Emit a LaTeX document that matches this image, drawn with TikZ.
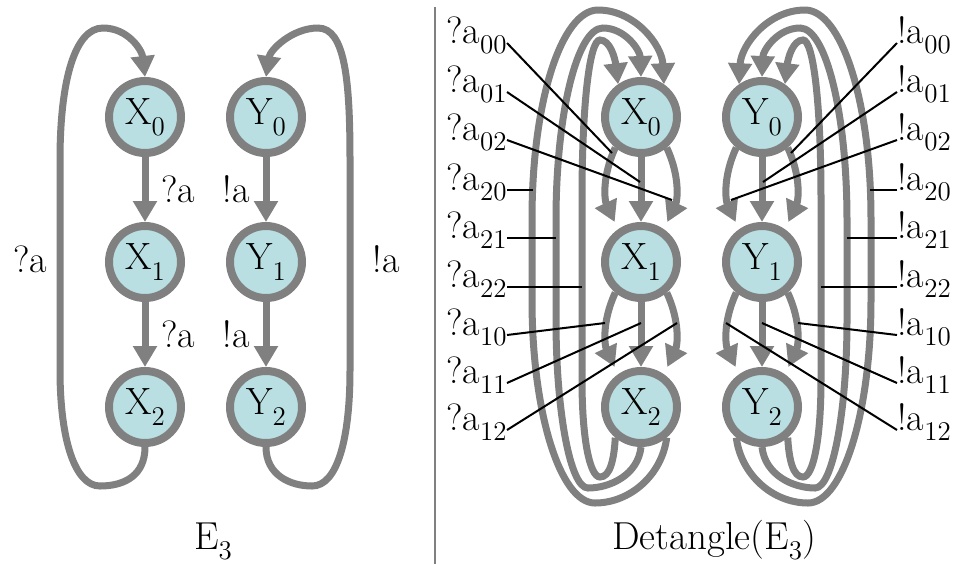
\documentclass[tikz,border=0pt]{standalone}
\usepackage{tikz}
\usetikzlibrary{arrows.meta}
\definecolor{edgegray}{RGB}{128,128,128}
\definecolor{statefill}{RGB}{185,223,226}
\newcommand{\lowsub}[1]{\raisebox{-0.28em}{\fontsize{13.5}{14}\selectfont #1}}
\newcommand{\labelfont}{\fontsize{19}{22}\selectfont}
\newcommand{\titlefont}{\fontsize{19.5}{23}\selectfont}

\begin{document}
\begin{tikzpicture}[x=0.5pt, y=-0.5pt,
    statenode/.style={circle, draw=edgegray, fill=statefill, line width=4pt, minimum size=36pt, inner sep=0pt, font=\labelfont},
    trans/.style={draw=edgegray, line width=3.5pt, -{Triangle[length=10.5pt,width=11.5pt]}},
    bent/.style={trans, shorten >=4pt},
    lbl/.style={inner sep=0pt, font=\labelfont},
    pointer/.style={black, line width=1pt},
    divider/.style={draw=edgegray, line width=1pt}]
    \useasboundingbox (0,0) rectangle (959,564);

    % E_3
    \node[statenode] (X0) at (145,117) {X\lowsub{0}};
    \node[statenode] (X1) at (145,262) {X\lowsub{1}};
    \node[statenode] (X2) at (145,407) {X\lowsub{2}};
    \node[statenode] (Y0) at (266,117) {Y\lowsub{0}};
    \node[statenode] (Y1) at (266,262) {Y\lowsub{1}};
    \node[statenode] (Y2) at (266,407) {Y\lowsub{2}};

    \draw[trans] (X0) -- node[lbl, right=6.5pt] {?a} (X1);
    \draw[trans] (X1) -- node[lbl, right=6.5pt] {?a} (X2);
    \draw[trans] (Y0) -- node[lbl, left=6.5pt] {!a} (Y1);
    \draw[trans] (Y1) -- node[lbl, left=6.5pt] {!a} (Y2);

    \draw[trans] (X2.south) .. controls (145,475) and (125,486) .. (100,486)
        .. controls (75,486) and (60,440) .. (60,370) -- (60,160)
        .. controls (60,80) and (75,28) .. (103,28)
        .. controls (128,28) and (142,50) .. (X0.north);
    \draw[trans] (Y2.south) .. controls (266,475) and (290,486) .. (312,486)
        .. controls (337,486) and (350,440) .. (350,370) -- (350,160)
        .. controls (350,80) and (345,28) .. (318,28)
        .. controls (292,28) and (270,50) .. (Y0.north);
    \node[lbl] (qloop) at (30,259) {?a};
    \node[lbl] (eloop) at (386,259) {!a};

    \node[font=\titlefont, inner sep=0pt, anchor=base] (title1) at (213,549) {E\lowsub{3}};

    \draw[divider] (435,7) -- (435,564);

    % Detangle(E_3)
    \node[statenode] (DX0) at (641,117) {X\lowsub{0}};
    \node[statenode] (DX1) at (641,262) {X\lowsub{1}};
    \node[statenode] (DX2) at (641,407) {X\lowsub{2}};
    \node[statenode] (DY0) at (762,117) {Y\lowsub{0}};
    \node[statenode] (DY1) at (762,262) {Y\lowsub{1}};
    \node[statenode] (DY2) at (762,407) {Y\lowsub{2}};

    \draw[trans] (DX0) -- (DX1);
    \draw[bent] (DX0.-130) to[out=-115,in=115] (DX1.125);
    \draw[bent] (DX0.-50) to[out=-65,in=65] (DX1.55);
    \draw[trans] (DX1) -- (DX2);
    \draw[bent] (DX1.-130) to[out=-115,in=115] (DX2.125);
    \draw[bent] (DX1.-50) to[out=-65,in=65] (DX2.55);

    \draw[trans] (DY0) -- (DY1);
    \draw[bent] (DY0.-130) to[out=-115,in=115] (DY1.125);
    \draw[bent] (DY0.-50) to[out=-65,in=65] (DY1.55);
    \draw[trans] (DY1) -- (DY2);
    \draw[bent] (DY1.-130) to[out=-115,in=115] (DY2.125);
    \draw[bent] (DY1.-50) to[out=-65,in=65] (DY2.55);

    \draw[trans] (DX2.-50) .. controls (662,475) and (630,503) .. (595,503)
        .. controls (560,503) and (532,412) .. (532,300) -- (532,219)
        .. controls (532,100) and (562,10) .. (598,10)
        .. controls (635,10) and (662,45) .. (DX0.55);
    \draw[trans] (DX2.south) .. controls (638,475) and (610,488) .. (588,488)
        .. controls (570,488) and (556,410) .. (556,320) -- (556,220)
        .. controls (556,114) and (577,28) .. (603,28)
        .. controls (625,28) and (640,50) .. (DX0.north);
    \draw[trans] (DX2.-130) .. controls (614,460) and (610,477) .. (600,477)
        .. controls (590,477) and (582,440) .. (582,380) -- (582,200)
        .. controls (582,100) and (590,40) .. (600,40)
        .. controls (610,40) and (615,58) .. (DX0.125);

    \draw[trans] (DY2.-130) .. controls (741,475) and (773,503) .. (808,503)
        .. controls (843,503) and (871,412) .. (871,300) -- (871,219)
        .. controls (871,100) and (841,10) .. (805,10)
        .. controls (768,10) and (741,45) .. (DY0.125);
    \draw[trans] (DY2.south) .. controls (765,475) and (793,488) .. (815,488)
        .. controls (833,488) and (847,410) .. (847,320) -- (847,220)
        .. controls (847,114) and (826,28) .. (800,28)
        .. controls (778,28) and (763,50) .. (DY0.north);
    \draw[trans] (DY2.-50) .. controls (789,460) and (793,477) .. (803,477)
        .. controls (813,477) and (821,440) .. (821,380) -- (821,200)
        .. controls (821,100) and (813,40) .. (803,40)
        .. controls (793,40) and (788,58) .. (DY0.55);

    % where the label lines end
    \coordinate (p00) at (612,153);
    \coordinate (p01) at (640,182);
    \coordinate (p02) at (672,200);
    \coordinate (p20) at (533,190);
    \coordinate (p21) at (556,238);
    \coordinate (p22) at (582,287);
    \coordinate (p10) at (605,323);
    \coordinate (p11) at (641,323);
    \coordinate (p12) at (677,323);
    \coordinate (s00) at (791,153);
    \coordinate (s01) at (763,182);
    \coordinate (s02) at (731,200);
    \coordinate (s20) at (870,190);
    \coordinate (s21) at (847,238);
    \coordinate (s22) at (821,287);
    \coordinate (s10) at (798,323);
    \coordinate (s11) at (762,323);
    \coordinate (s12) at (726,323);

    \node[lbl, anchor=base east] (q00) at (507,43) {?a\lowsub{00}};
    \node[lbl, anchor=base east] (q01) at (507,92) {?a\lowsub{01}};
    \node[lbl, anchor=base east] (q02) at (507,140) {?a\lowsub{02}};
    \node[lbl, anchor=base east] (q20) at (507,190) {?a\lowsub{20}};
    \node[lbl, anchor=base east] (q21) at (507,238) {?a\lowsub{21}};
    \node[lbl, anchor=base east] (q22) at (507,287) {?a\lowsub{22}};
    \node[lbl, anchor=base east] (q10) at (507,335) {?a\lowsub{10}};
    \node[lbl, anchor=base east] (q11) at (507,383) {?a\lowsub{11}};
    \node[lbl, anchor=base east] (q12) at (507,430) {?a\lowsub{12}};
    \node[lbl, anchor=base west] (e00) at (897,43) {!a\lowsub{00}};
    \node[lbl, anchor=base west] (e01) at (897,92) {!a\lowsub{01}};
    \node[lbl, anchor=base west] (e02) at (897,140) {!a\lowsub{02}};
    \node[lbl, anchor=base west] (e20) at (897,190) {!a\lowsub{20}};
    \node[lbl, anchor=base west] (e21) at (897,238) {!a\lowsub{21}};
    \node[lbl, anchor=base west] (e22) at (897,287) {!a\lowsub{22}};
    \node[lbl, anchor=base west] (e10) at (897,335) {!a\lowsub{10}};
    \node[lbl, anchor=base west] (e11) at (897,383) {!a\lowsub{11}};
    \node[lbl, anchor=base west] (e12) at (897,430) {!a\lowsub{12}};

    \foreach \i in {00,01,02,20,21,22,10,11,12} {
        \draw[pointer] (q\i.base east) -- (p\i);
        \draw[pointer] (e\i.base west) -- (s\i);
    }

    \node[font=\titlefont, inner sep=0pt, anchor=base] (title2) at (714,549) {Detangle(E\lowsub{3})};
\end{tikzpicture}
\end{document}
